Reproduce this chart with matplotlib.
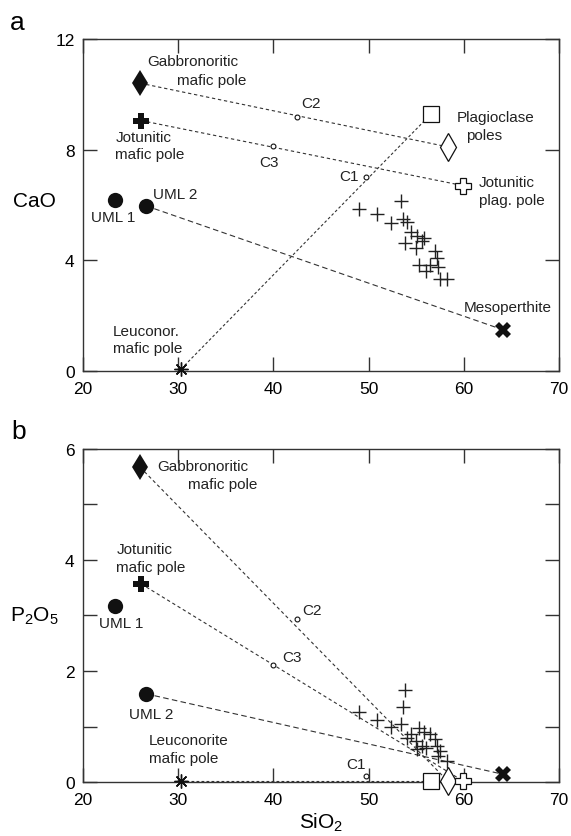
import matplotlib.pyplot as plt

plt.rcParams['font.family'] = ['Liberation Sans', 'DejaVu Sans']
plt.rcParams['mathtext.fontset'] = 'custom'
plt.rcParams['mathtext.rm'] = 'Liberation Sans'
plt.rcParams['mathtext.it'] = 'Liberation Sans'

# samples (SiO2, CaO, P2O5)
sio2 = [49.0, 50.9, 52.4, 53.4, 53.6, 53.8, 54.0, 54.4, 55.0, 55.1,
        55.3, 55.6, 55.8, 56.0, 56.4, 57.0, 57.2, 57.3, 57.5, 58.2]
cao = [5.85, 5.67, 5.33, 6.15, 5.49, 4.64, 5.39, 5.03, 4.43, 4.88,
       3.83, 4.70, 4.79, 3.62, 3.83, 4.34, 4.10, 3.74, 3.32, 3.32]
p2o5 = [1.27, 1.12, 1.00, 1.05, 1.35, 1.65, 0.79, 0.87, 0.73, 0.59,
        0.97, 0.65, 0.90, 0.61, 0.86, 0.77, 0.65, 0.47, 0.56, 0.38]

# poles: SiO2, CaO, P2O5
gabbro = (26.0, 10.4, 5.67)
jotun_mafic = (26.1, 9.05, 3.57)
uml1 = (23.4, 6.18, 3.18)
uml2 = (26.6, 5.97, 1.59)
leuco = (30.3, 0.07, 0.02)
meso = (64.1, 1.49, 0.14)
plag_sq = (56.6, 9.3, 0.02)
plag_di = (58.3, 8.1, 0.02)
jotun_plag = (59.9, 6.7, 0.02)
c1 = (49.7, 7.01, 0.11)
c2 = (42.5, 9.19, 2.94)
c3 = (40.0, 8.13, 2.11)

fig = plt.figure(figsize=(5.71, 8.37), dpi=100)
ax_a = fig.add_axes([0.1454, 0.5556, 0.8336, 0.3967])
ax_b = fig.add_axes([0.1454, 0.0645, 0.8336, 0.3979])

lc = '#333333'
k = '#111111'


def draw(ax, i):
    # mixing lines
    ax.plot([gabbro[0], plag_di[0]], [gabbro[i], plag_di[i]], color=lc, lw=0.8, ls=(0, (3, 2.5)), zorder=1)
    ax.plot([jotun_mafic[0], jotun_plag[0]], [jotun_mafic[i], jotun_plag[i]], color=lc, lw=0.8, ls=(0, (3, 2.5)), zorder=1)
    ax.plot([leuco[0], plag_sq[0]], [leuco[i], plag_sq[i]], color=lc, lw=0.8, ls=(0, (2.5, 2)), zorder=1)
    ax.plot([uml2[0], meso[0]], [uml2[i], meso[i]], color=lc, lw=0.8, ls=(0, (5, 3)), zorder=1)

    ys = cao if i == 1 else p2o5
    ax.plot(sio2, ys, ls='none', marker='+', ms=10, mew=1.0, color='#222222', zorder=3)

    m = dict(ls='none', zorder=4, clip_on=False)
    ax.plot(gabbro[0], gabbro[i], marker='d', ms=13, color=k, mew=0, **m)
    ax.plot(jotun_mafic[0], jotun_mafic[i], marker='P', ms=11, color=k, mew=0, **m)
    ax.plot(uml1[0], uml1[i], marker='o', ms=11, color=k, mew=0, **m)
    ax.plot(uml2[0], uml2[i], marker='o', ms=11, color=k, mew=0, **m)
    ax.plot(leuco[0], leuco[i], marker=(8, 2, 0), ms=10, color=k, mew=1.0, **m)
    ax.plot(meso[0], meso[i], marker='X', ms=11.5, color=k, mew=0, **m)
    ax.plot(plag_sq[0], plag_sq[i], marker='s', ms=12, mfc='white', mec=k, mew=0.9, **m)
    ax.plot(plag_di[0], plag_di[i], marker='d', ms=14, mfc='white', mec=k, mew=0.9, **m)
    ax.plot(jotun_plag[0], jotun_plag[i], marker='P', ms=11, mfc='white', mec=k, mew=0.9, **m)
    for c in (c1, c2, c3):
        ax.plot(c[0], c[i], marker='o', ms=3.5, mfc='white', mec=k, mew=0.8, **m)

    ax.set_xlim(20, 70)
    ax.set_xticks([20, 30, 40, 50, 60, 70])
    ax.tick_params(direction='in', length=10, width=1, labelsize=12.5,
                   top=True, right=True, color='#333333')
    ax.tick_params(axis='x', pad=7)
    ax.tick_params(axis='y', pad=6)
    for s in ax.spines.values():
        s.set_linewidth(1)
        s.set_color('#333333')


draw(ax_a, 1)
ax_a.set_ylim(0, 12)
ax_a.set_yticks([0, 4, 8, 12])

draw(ax_b, 2)
ax_b.set_ylim(0, 6)
ax_b.set_yticks([0, 1, 2, 3, 4, 5, 6])
ax_b.set_yticklabels(['0', '', '2', '', '4', '', '6'])

fs = 11
ta = dict(fontsize=fs, va='center', ha='left', color='#222222')
ax_a.text(26.7, 11.2, 'Gabbronoritic', **ta)
ax_a.text(29.9, 10.52, 'mafic pole', **ta)
ax_a.text(23.4, 8.46, 'Jotunitic', **ta)
ax_a.text(23.4, 7.84, 'mafic pole', **ta)
ax_a.text(27.35, 6.40, 'UML 2', **ta)
ax_a.text(20.85, 5.57, 'UML 1', **ta)
ax_a.text(23.15, 1.46, 'Leuconor.', **ta)
ax_a.text(23.15, 0.83, 'mafic pole', **ta)
ax_a.text(42.9, 9.69, 'C2', **ta)
ax_a.text(38.5, 7.55, 'C3', **ta)
ax_a.text(46.9, 7.06, 'C1', **ta)
ax_a.text(59.3, 9.18, 'Plagioclase', **ta)
ax_a.text(60.2, 8.53, 'poles', **ta)
ax_a.text(61.6, 6.83, 'Jotunitic', **ta)
ax_a.text(61.6, 6.19, 'plag. pole', **ta)
ax_a.text(60.0, 2.31, 'Mesoperthite', **ta)

ax_b.text(27.8, 5.70, 'Gabbronoritic', **ta)
ax_b.text(31.0, 5.37, 'mafic pole', **ta)
ax_b.text(23.5, 4.20, 'Jotunitic', **ta)
ax_b.text(23.5, 3.88, 'mafic pole', **ta)
ax_b.text(21.7, 2.86, 'UML 1', **ta)
ax_b.text(24.8, 1.23, 'UML 2', **ta)
ax_b.text(26.9, 0.76, 'Leuconorite', **ta)
ax_b.text(26.9, 0.43, 'mafic pole', **ta)
ax_b.text(43.0, 3.09, 'C2', **ta)
ax_b.text(40.9, 2.26, 'C3', **ta)
ax_b.text(47.7, 0.32, 'C1', **ta)

fig.text(0.0604, 0.759, 'CaO', fontsize=15, ha='center', va='center')
fig.text(0.0595, 0.2632, r'$\mathrm{P_2O_5}$', fontsize=15, ha='center', va='center')
fig.text(0.563, 0.004, r'$\mathrm{SiO_2}$', fontsize=15, ha='center', va='bottom')
fig.text(0.0307, 0.9725, 'a', fontsize=19, ha='center', va='center')
fig.text(0.0333, 0.4839, 'b', fontsize=19, ha='center', va='center')

fig.savefig('out.png', dpi=100)
